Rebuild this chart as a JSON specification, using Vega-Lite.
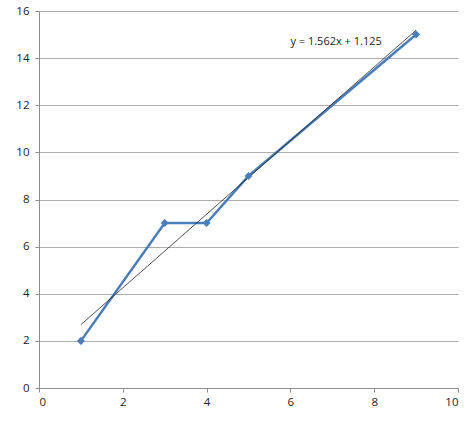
{
  "$schema": "https://vega.github.io/schema/vega-lite/v6.json",
  "width": 419,
  "height": 377,
  "autosize": {"type": "none"},
  "padding": {"left": 39, "top": 11, "right": 16, "bottom": 38},
  "background": "white",
  "config": {
    "view": {"stroke": null},
    "axis": {
      "labelFont": "Open Sans",
      "labelFontSize": 11.5,
      "labelColor": "#222222",
      "domainColor": "#8c8c8c",
      "tickColor": "#8c8c8c",
      "gridColor": "#adadad",
      "tickSize": 4,
      "title": null
    }
  },
  "datasets": {
    "points": [
      {"x": 1, "y": 2},
      {"x": 3, "y": 7},
      {"x": 4, "y": 7},
      {"x": 5, "y": 9},
      {"x": 9, "y": 15}
    ],
    "label": [
      {"x": 6.0, "y": 14.7, "text": "y = 1.562x + 1.125"}
    ]
  },
  "encoding": {
    "x": {
      "field": "x",
      "type": "quantitative",
      "scale": {"domain": [0, 10], "nice": false},
      "axis": {"values": [0, 2, 4, 6, 8, 10], "grid": false, "labelPadding": 4}
    },
    "y": {
      "field": "y",
      "type": "quantitative",
      "scale": {"domain": [0, 16], "nice": false},
      "axis": {"values": [0, 2, 4, 6, 8, 10, 12, 14, 16], "grid": true, "labelPadding": 6}
    }
  },
  "layer": [
    {
      "data": {"name": "points"},
      "mark": {"type": "line", "color": "#4a7ebb", "strokeWidth": 2.5},
      "encoding": {}
    },
    {
      "data": {"name": "points"},
      "transform": [{"regression": "y", "on": "x"}],
      "mark": {"type": "line", "color": "#222222", "strokeWidth": 0.8},
      "encoding": {}
    },
    {
      "data": {"name": "points"},
      "mark": {"type": "point", "shape": "diamond", "filled": true, "color": "#4a7ebb", "size": 65, "opacity": 1},
      "encoding": {}
    },
    {
      "data": {"name": "label"},
      "mark": {"type": "text", "align": "left", "baseline": "middle", "font": "Open Sans", "fontSize": 11, "color": "#222222"},
      "encoding": {"text": {"field": "text"}}
    }
  ]
}
